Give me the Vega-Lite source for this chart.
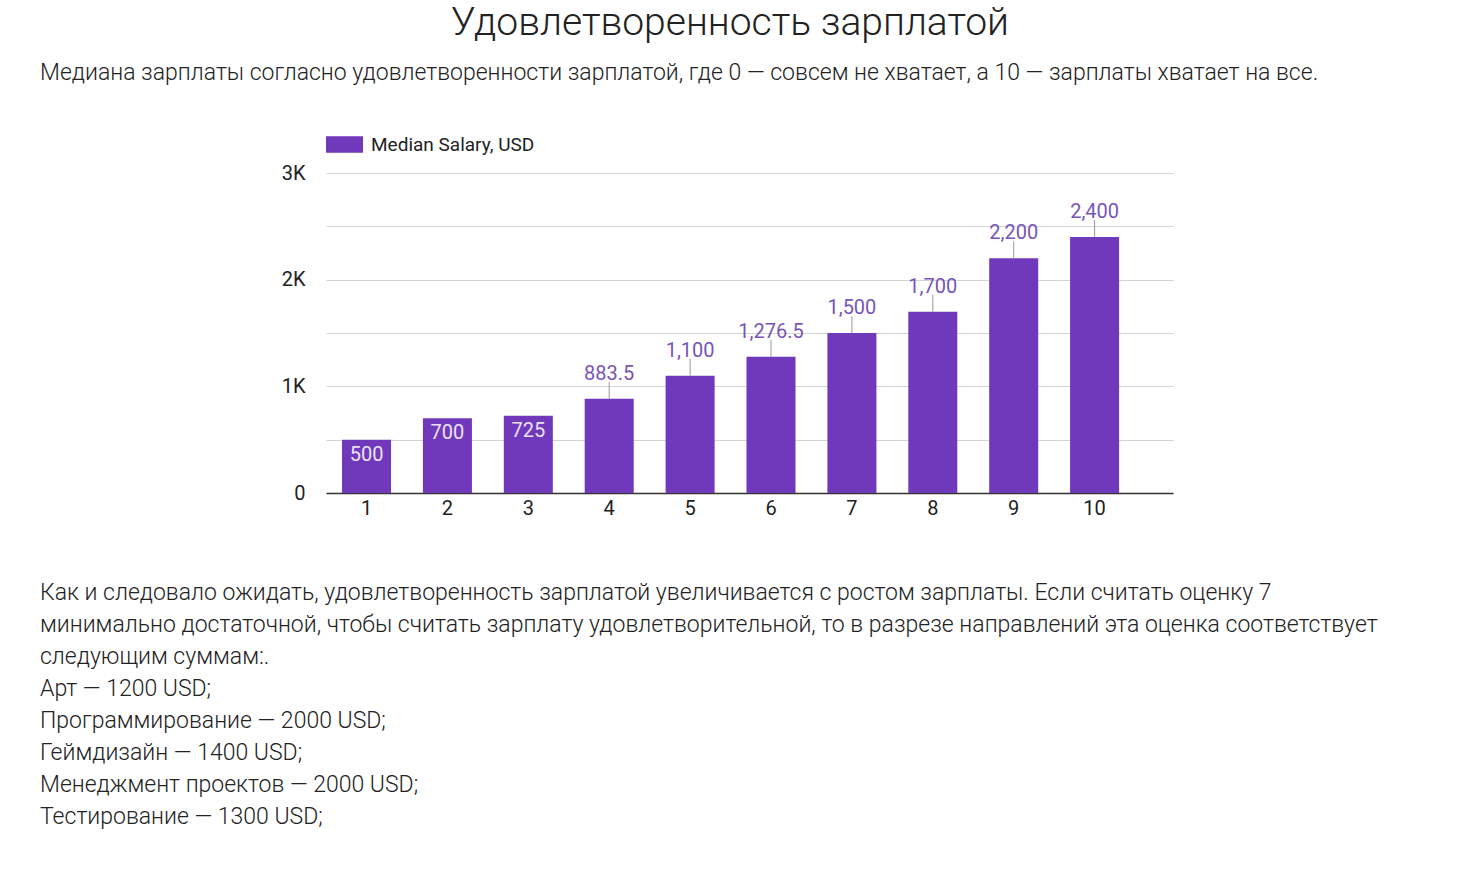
{
  "$schema": "https://vega.github.io/schema/vega-lite/v6.json",
  "background": "white",
  "padding": {"left": 40, "right": 1, "top": 4, "bottom": 0},
  "title": {"text": "Удовлетворенность зарплатой", "anchor": "middle", "dx": -19.5, "fontSize": 39, "fontWeight": 300, "font": "Roboto", "color": "#222", "offset": 15},
  "config": {"view": {"stroke": null}, "font": "Roboto"},
  "spacing": 59,
  "resolve": {"legend": {"color": "independent"}, "scale": {"color": "independent"}},
  "vconcat": [
    {
      "spacing": 38,
      "center": true,
      "resolve": {"legend": {"color": "independent"}, "scale": {"color": "independent"}},
      "vconcat": [
        {
          "width": 1419,
          "height": 30,
          "data": {"values": [{"text": "Медиана зарплаты согласно удовлетворенности зарплатой, где 0 — совсем не хватает, а 10 — зарплаты хватает на все."}]},
          "mark": {"type": "text", "align": "left", "baseline": "middle", "fontSize": 23, "fontWeight": 300, "color": "#222"},
          "encoding": {
            "x": {"datum": 0, "type": "quantitative", "scale": {"domain": [0, 1]}, "axis": null},
            "text": {"field": "text"}
          }
        },
        {
          "width": 847,
          "height": 320,
          "data": {"values": [
            {"score": 1, "salary": 500},
            {"score": 2, "salary": 700},
            {"score": 3, "salary": 725},
            {"score": 4, "salary": 883.5},
            {"score": 5, "salary": 1100},
            {"score": 6, "salary": 1276.5},
            {"score": 7, "salary": 1500},
            {"score": 8, "salary": 1700},
            {"score": 9, "salary": 2200},
            {"score": 10, "salary": 2400}
          ]},
          "encoding": {
            "x": {"field": "score", "type": "ordinal",
              "scale": {"paddingInner": 0.394, "paddingOuter": 0.432, "align": 0.229},
              "axis": {"title": null, "labelAngle": 0, "labelFontSize": 20, "labelColor": "#222", "labelPadding": 5, "tickSize": 0, "ticks": false, "domainColor": "#333", "domainWidth": 1.5}},
            "y": {"field": "salary", "type": "quantitative",
              "scale": {"domain": [0, 3000], "nice": false},
              "axis": {"title": null, "values": [0, 500, 1000, 1500, 2000, 2500, 3000],
                "labelExpr": "datum.value == 0 ? '0' : (datum.value % 1000 == 0 ? (datum.value / 1000) + 'K' : '')",
                "labelFontSize": 20, "labelColor": "#222", "labelPadding": 21, "tickSize": 0, "ticks": false, "domain": false, "grid": true, "gridColor": "#d4d4d4"}}
          },
          "layer": [
            {
              "mark": {"type": "bar", "color": "#7039bc"},
              "encoding": {
                "color": {"datum": "Median Salary, USD", "scale": {"range": ["#7039bc"]},
                  "legend": {"title": null, "orient": "top", "symbolType": "M-1,-0.45H1V0.45H-1Z", "symbolSize": 1369, "symbolStrokeWidth": 0, "symbolOpacity": 1, "labelFontSize": 19, "labelColor": "#222", "labelOffset": 8, "labelLimit": 400, "offset": 18, "padding": 0}}
              }
            },
            {
              "transform": [{"filter": "datum.salary < 800"}],
              "mark": {"type": "text", "dy": 21, "baseline": "alphabetic", "fontSize": 20, "color": "#ebe2f8"},
              "encoding": {"text": {"field": "salary", "type": "quantitative", "format": ",.1~f"}}
            },
            {
              "transform": [{"filter": "datum.salary >= 800"}],
              "mark": {"type": "rule", "y2Offset": -17, "color": "#999", "strokeWidth": 1},
              "encoding": {"y2": {"field": "salary"}}
            },
            {
              "transform": [{"filter": "datum.salary >= 800"}],
              "mark": {"type": "text", "dy": -19, "baseline": "alphabetic", "fontSize": 20, "color": "#7656b8"},
              "encoding": {"text": {"field": "salary", "type": "quantitative", "format": ",.1~f"}}
            }
          ]
        }
      ]
    },
    {
      "width": 1380,
      "height": {"step": 32},
      "data": {"values": [
        {"line": 0, "text": "Как и следовало ожидать, удовлетворенность зарплатой увеличивается с ростом зарплаты. Если считать оценку 7"},
        {"line": 1, "text": "минимально достаточной, чтобы считать зарплату удовлетворительной, то в разрезе направлений эта оценка соответствует"},
        {"line": 2, "text": "следующим суммам:."},
        {"line": 3, "text": "Арт — 1200 USD;"},
        {"line": 4, "text": "Программирование — 2000 USD;"},
        {"line": 5, "text": "Геймдизайн — 1400 USD;"},
        {"line": 6, "text": "Менеджмент проектов — 2000 USD;"},
        {"line": 7, "text": "Тестирование — 1300 USD;"}
      ]},
      "mark": {"type": "text", "align": "left", "baseline": "middle", "fontSize": 23, "fontWeight": 300, "color": "#222"},
      "encoding": {
        "x": {"datum": 0, "type": "quantitative", "scale": {"domain": [0, 1]}, "axis": null},
        "y": {"field": "line", "type": "ordinal", "axis": null},
        "text": {"field": "text"}
      }
    }
  ]
}
